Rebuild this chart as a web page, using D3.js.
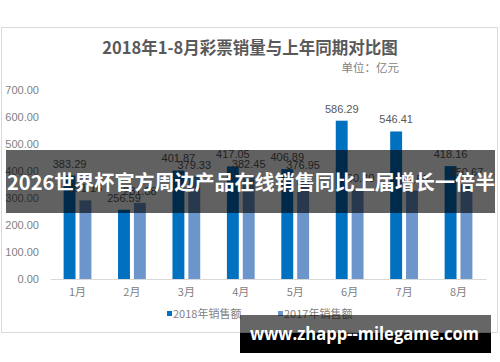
<!DOCTYPE html>
<html>
<head>
<meta charset="utf-8">
<script src="https://cdn.jsdelivr.net/npm/d3@7"></script>
<style>
  body { margin: 0; background: #fff; }
  svg { display: block; }
</style>
</head>
<body>
<svg id="chart" width="500" height="362"></svg>
<script>
const months = ["1月", "2月", "3月", "4月", "5月", "6月", "7月", "8月"];
const sales2018 = [383.29, 256.59, 401.87, 417.05, 406.89, 586.29, 546.41, 418.16];
const sales2017 = [291.16, 281.88, 379.33, 382.45, 376.95, 330.40, 327.55, 350.67];
const seriesNames = ["2018年销售额", "2017年销售额"];
const yTicks = [0, 100, 200, 300, 400, 500, 600, 700];

const width = 500, height = 362;
const colors = ["#0070c0", "#6b95cb"];
const cjk = "'Noto Sans CJK SC', 'Microsoft YaHei', sans-serif";
const num = "'Liberation Sans', Arial, sans-serif";

const svg = d3.select("svg#chart");

// chart frame
svg.append("rect")
    .attr("x", 1.5).attr("y", 27.5)
    .attr("width", 496).attr("height", 305)
    .attr("fill", "#fff")
    .attr("stroke", "#d9d9d9");

svg.append("text")
    .attr("x", 250).attr("y", 54)
    .attr("text-anchor", "middle")
    .attr("font-family", cjk)
    .attr("font-size", 16.5)
    .attr("font-weight", "bold")
    .attr("fill", "#595959")
    .text("2018年1-8月彩票销量与上年同期对比图");

svg.append("text")
    .attr("x", 399).attr("y", 72)
    .attr("text-anchor", "end")
    .attr("font-family", cjk)
    .attr("font-size", 11.5)
    .attr("fill", "#7f7f7f")
    .text("单位：亿元");

const x0 = d3.scaleBand()
    .domain(months)
    .range([50, 486])
    .paddingInner(0.49)
    .paddingOuter(0.25);

const x1 = d3.scaleBand()
    .domain([0, 1])
    .range([0, x0.bandwidth()])
    .paddingInner(0.25);

const y = d3.scaleLinear()
    .domain([0, 700])
    .range([279, 90]);

// y axis labels (no line, no grid)
const yAxis = svg.append("g")
    .attr("transform", "translate(46,0)")
    .call(d3.axisLeft(y).tickValues(yTicks).tickFormat(d3.format(".2f")).tickSize(0).tickPadding(7));
yAxis.select(".domain").remove();
yAxis.selectAll("text")
    .attr("font-family", num)
    .attr("font-size", 11)
    .attr("fill", "#7f7f7f");

// x axis
const xAxis = svg.append("g")
    .attr("transform", `translate(0,${y(0)})`)
    .call(d3.axisBottom(x0).tickSize(0).tickPadding(9));
xAxis.select(".domain").attr("stroke", "#d9d9d9");
xAxis.selectAll("text")
    .attr("font-family", cjk)
    .attr("font-size", 11)
    .attr("fill", "#7f7f7f");

const series = [sales2018, sales2017];
const rows = months.map((m, i) => ({ month: m, values: series.map(s => s[i]) }));

const groups = svg.append("g")
    .selectAll("g")
    .data(rows)
    .join("g")
    .attr("transform", d => `translate(${x0(d.month)},0)`);

groups.selectAll("rect")
    .data(d => d.values.map((v, k) => ({ k, v })))
    .join("rect")
    .attr("x", d => x1(d.k))
    .attr("y", d => y(d.v))
    .attr("width", x1.bandwidth())
    .attr("height", d => y(0) - y(d.v))
    .attr("fill", d => colors[d.k]);

groups.selectAll("text")
    .data(d => d.values.map((v, k) => ({ k, v })))
    .join("text")
    .attr("x", d => x1(d.k) + x1.bandwidth() / 2)
    .attr("y", d => y(d.v) - 8)
    .attr("text-anchor", "middle")
    .attr("font-family", num)
    .attr("font-size", 11)
    .attr("fill", "#595959")
    .text(d => d.v.toFixed(2));

// legend
const legendX = [167, 278];
const legend = svg.append("g")
    .selectAll("g")
    .data(seriesNames)
    .join("g")
    .attr("transform", (d, i) => `translate(${legendX[i]},314)`);
legend.append("rect")
    .attr("x", 0).attr("y", -3)
    .attr("width", 5).attr("height", 5)
    .attr("fill", (d, i) => colors[i]);
legend.append("text")
    .attr("x", 6).attr("y", 4)
    .attr("font-family", cjk)
    .attr("font-size", 11)
    .attr("fill", "#7f7f7f")
    .text(d => d);

// overlay banner
svg.append("rect")
    .attr("x", 6).attr("y", 150)
    .attr("width", 489).attr("height", 63)
    .attr("fill", "rgba(0,0,0,0.62)");
svg.append("text")
    .attr("x", 7).attr("y", 190)
    .attr("font-family", cjk)
    .attr("font-size", 20)
    .attr("font-weight", "bold")
    .attr("fill", "#fff")
    .attr("textLength", 488)
    .attr("lengthAdjust", "spacingAndGlyphs")
    .text("2026世界杯官方周边产品在线销售同比上届增长一倍半");

// bottom watermark
svg.append("rect")
    .attr("x", 240).attr("y", 315)
    .attr("width", 251).attr("height", 18)
    .attr("fill", "rgba(0,0,0,0.6)");
svg.append("rect")
    .attr("x", 240).attr("y", 333)
    .attr("width", 251).attr("height", 20)
    .attr("fill", "#000");
svg.append("text")
    .attr("x", 250).attr("y", 340)
    .attr("font-family", "'Open Sans', 'Noto Sans', sans-serif")
    .attr("font-size", 18)
    .attr("font-weight", "bold")
    .attr("fill", "#fff")
    .attr("textLength", 229)
    .attr("lengthAdjust", "spacingAndGlyphs")
    .text("www.zhapp--milegame.com");
</script>
</body>
</html>
